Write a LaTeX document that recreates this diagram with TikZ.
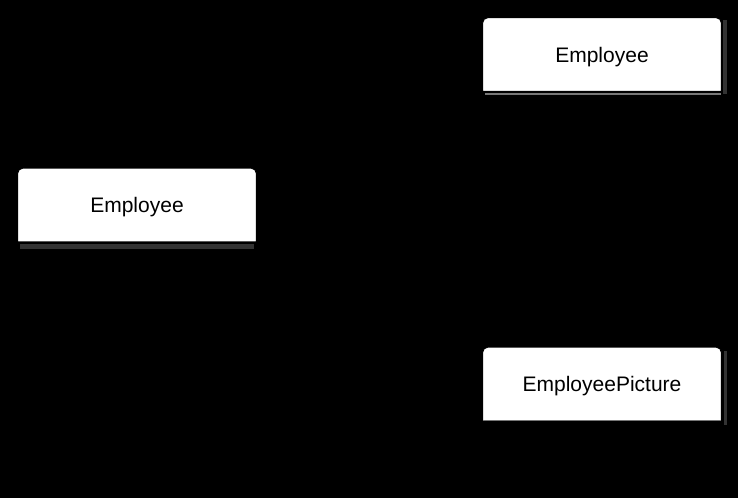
\documentclass[tikz,border=0pt]{standalone}
\usepackage{fontspec}
\setmainfont{Liberation Sans}
\usetikzlibrary{backgrounds}

\definecolor{shadowdark}{HTML}{333333}
\definecolor{shadowlight}{HTML}{777777}

\begin{document}
\begin{tikzpicture}[
                x = 1pt,
                y = -1pt,
                semithick
                ]

                \tikzstyle{entity}=[
                        minimum width = 238pt,
                        minimum height = 73pt,
                        inner sep = 0pt,
                        text height = 15pt,
                        text depth = 0pt,
                        font = \fontsize{21}{25}\selectfont
                ]

                \useasboundingbox (0,0) rectangle (738,498);

                \node[entity] (employee) at (137,205) {Employee};
                \node[entity] (employeeTop) at (602,54.5) {Employee};
                \node[entity] (picture) at (602,384) {EmployeePicture};

                \begin{scope}[on background layer]
                        \fill[black] (0,0) rectangle (738,498);

                        % shadows
                        \fill[shadowdark] ([shift={(2,2)}]employee.south west) rectangle ([shift={(-2,7)}]employee.south east);
                        \fill[shadowdark] ([shift={(2,2)}]employeeTop.north east) rectangle ([shift={(6,3)}]employeeTop.south east);
                        \fill[shadowlight] ([shift={(2,1.5)}]employeeTop.south west) rectangle ([shift={(0,4)}]employeeTop.south east);
                        \fill[shadowdark] ([shift={(3,4)}]picture.north east) rectangle ([shift={(6,4)}]picture.south east);

                        \foreach \n in {employee, employeeTop, picture}
                                \draw[fill = white, line width = 1pt] (\n.south west) [rounded corners = 5pt] -- (\n.north west) -- (\n.north east) [sharp corners] -- (\n.south east) -- cycle;

                        \draw[shadowlight, line width = 1pt] (picture.south west) -- (picture.south east);
                \end{scope}
\end{tikzpicture}
\end{document}
